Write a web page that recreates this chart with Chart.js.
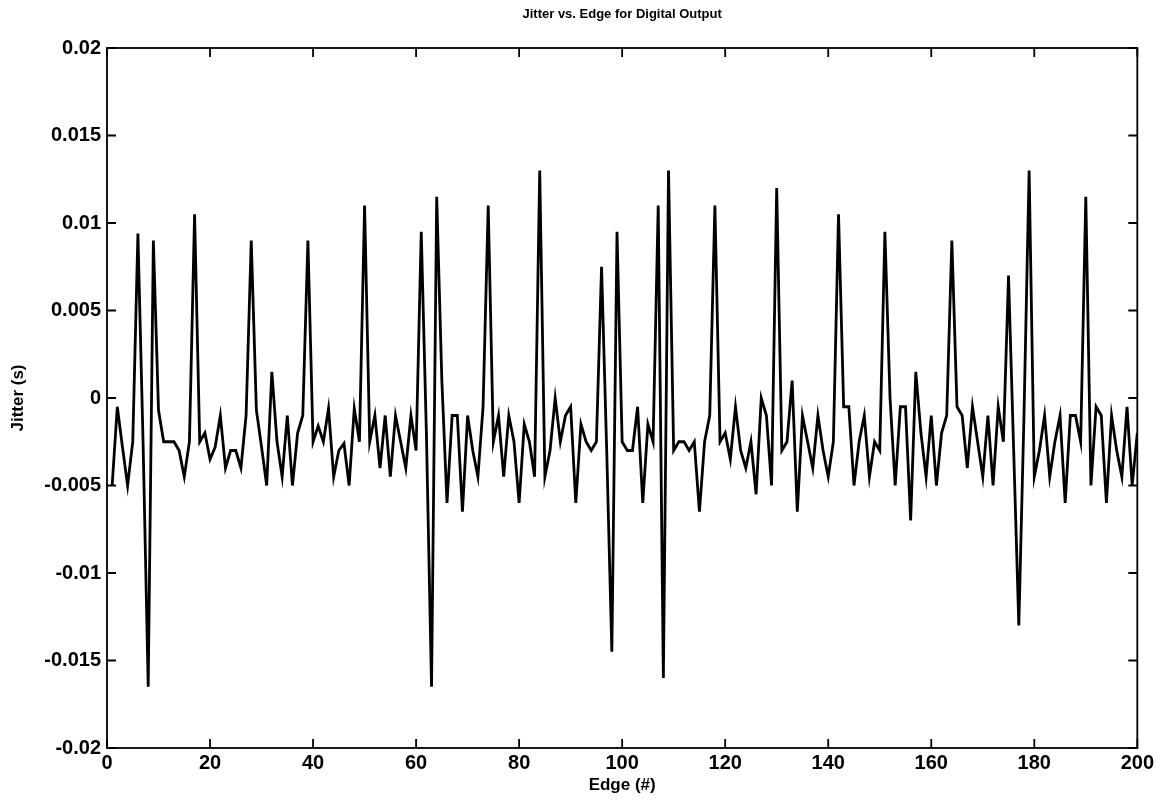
<!DOCTYPE html>
<html lang="en">
<head>
  <meta charset="UTF-8"/>
  <title>Jitter vs. Edge for Digital Output</title>
  <script src="https://cdn.jsdelivr.net/npm/chart.js"></script>
  <style>
    html, body { margin: 0; padding: 0; background: #fff; }
    .chart-box { width: 1157px; height: 800px; position: relative; }
  </style>
</head>
<body>
<div class="chart-box"><canvas id="jitterChart"></canvas></div>

<script>
  // edge index, 1..200
  const edges = Array.from({ length: 200 }, (_, i) => i + 1);

  // jitter per edge (s)
  const jitter = [
    -0.005, -0.0005, -0.0028, -0.005, -0.0025, 0.0094, -0.0025, -0.0165, 0.009, -0.0007,
    -0.0025, -0.0025, -0.0025, -0.003, -0.0045, -0.0025, 0.0105, -0.0025, -0.002, -0.0035,
    -0.0028, -0.001, -0.004, -0.003, -0.003, -0.004, -0.001, 0.009, -0.0007, -0.0028,
    -0.005, 0.0015, -0.0025, -0.0045, -0.001, -0.005, -0.002, -0.001, 0.009, -0.0025,
    -0.0016, -0.0025, -0.0006, -0.0045, -0.003, -0.0026, -0.005, -0.0006, -0.0025, 0.011,
    -0.0025, -0.001, -0.004, -0.001, -0.0045, -0.001, -0.0025, -0.004, -0.001, -0.003,
    0.0095, -0.002, -0.0165, 0.0115, 0.001, -0.006, -0.001, -0.001, -0.0065, -0.001,
    -0.003, -0.0045, -0.0005, 0.011, -0.0025, -0.001, -0.0045, -0.001, -0.0025, -0.006,
    -0.0015, -0.0025, -0.0045, 0.013, -0.0045, -0.003, 0, -0.0025, -0.001, -0.0005,
    -0.006, -0.0015, -0.0025, -0.003, -0.0025, 0.0075, -0.003, -0.0145, 0.0095, -0.0025,
    -0.003, -0.003, -0.0005, -0.006, -0.0015, -0.0025, 0.011, -0.016, 0.013, -0.003,
    -0.0025, -0.0025, -0.003, -0.0025, -0.0065, -0.0025, -0.001, 0.011, -0.0025, -0.002,
    -0.0035, -0.0005, -0.003, -0.004, -0.0025, -0.0055, 0, -0.001, -0.005, 0.012,
    -0.003, -0.0025, 0.001, -0.0065, -0.001, -0.0025, -0.004, -0.001, -0.003, -0.0045,
    -0.0025, 0.0105, -0.0005, -0.0005, -0.005, -0.0025, -0.001, -0.0045, -0.0025, -0.003,
    0.0095, 0, -0.005, -0.0005, -0.0005, -0.007, 0.0015, -0.002, -0.0045, -0.001,
    -0.005, -0.002, -0.001, 0.009, -0.0005, -0.001, -0.004, -0.0005, -0.0025, -0.0045,
    -0.001, -0.005, -0.0005, -0.0025, 0.007, -0.003, -0.013, -0.001, 0.013, -0.0045,
    -0.003, -0.001, -0.0045, -0.0025, -0.001, -0.006, -0.001, -0.001, -0.0025, 0.0115,
    -0.005, -0.0005, -0.001, -0.006, -0.001, -0.003, -0.0045, -0.0005, -0.005, -0.002
  ];

  const xTicks = [0, 20, 40, 60, 80, 100, 120, 140, 160, 180, 200];
  const yTicks = [-0.02, -0.015, -0.01, -0.005, 0, 0.005, 0.01, 0.015, 0.02];
  const yTickLabels = ['-0.02', '-0.015', '-0.01', '-0.005', '0', '0.005', '0.01', '0.015', '0.02'];

  const chartTitle = 'Jitter vs. Edge for Digital Output';
  const FONT = '"Liberation Sans", Arial, Helvetica, sans-serif';

  // matlab style frame: full box, inward ticks on all four sides, title centred over the axes
  const boxPlugin = {
    id: 'matlabBox',
    afterDraw(chart) {
      const { ctx, chartArea: a, scales: { x, y } } = chart;
      const len = 9;
      ctx.save();
      ctx.strokeStyle = '#000';
      ctx.lineWidth = 1.8;
      ctx.strokeRect(a.left, a.top, a.right - a.left, a.bottom - a.top);
      ctx.beginPath();
      xTicks.forEach(v => {
        const px = x.getPixelForValue(v);
        ctx.moveTo(px, a.bottom); ctx.lineTo(px, a.bottom - len);
        ctx.moveTo(px, a.top);    ctx.lineTo(px, a.top + len);
      });
      yTicks.forEach(v => {
        const py = y.getPixelForValue(v);
        ctx.moveTo(a.left, py);  ctx.lineTo(a.left + len, py);
        ctx.moveTo(a.right, py); ctx.lineTo(a.right - len, py);
      });
      ctx.stroke();

      ctx.fillStyle = '#000';
      ctx.font = 'bold 13px ' + FONT;
      ctx.textAlign = 'center';
      ctx.textBaseline = 'middle';
      ctx.fillText(chartTitle, (a.left + a.right) / 2, 14);
      ctx.restore();
    }
  };

  new Chart(document.getElementById('jitterChart'), {
    type: 'line',
    data: {
      datasets: [{
        label: 'Jitter',
        data: edges.map((e, i) => ({ x: e, y: jitter[i] })),
        borderColor: '#000',
        borderWidth: 2.8,
        pointRadius: 0,
        tension: 0,
        fill: false
      }]
    },
    options: {
      responsive: true,
      maintainAspectRatio: false,
      animation: false,
      layout: { padding: { top: 48, left: 0, right: 18, bottom: 0 } },
      plugins: {
        legend: { display: false },
        tooltip: { enabled: false },
        title: { display: false }
      },
      scales: {
        x: {
          type: 'linear',
          min: 0,
          max: 200,
          afterBuildTicks: s => { s.ticks = xTicks.map(v => ({ value: v })); },
          afterFit: s => { s.height = 52; },
          grid: { display: false, drawTicks: false },
          border: { display: false },
          ticks: {
            color: '#000',
            padding: 3,
            maxRotation: 0,
            font: { family: FONT, size: 20, weight: 'bold' }
          },
          title: {
            display: true,
            text: 'Edge (#)',
            color: '#000',
            font: { family: FONT, size: 17, weight: 'bold' },
            padding: { top: 0, bottom: 4 }
          }
        },
        y: {
          min: -0.02,
          max: 0.02,
          afterBuildTicks: s => { s.ticks = yTicks.map(v => ({ value: v })); },
          afterFit: s => { s.width = 107; },
          grid: { display: false, drawTicks: false },
          border: { display: false },
          ticks: {
            color: '#000',
            padding: 6,
            font: { family: FONT, size: 20, weight: 'bold' },
            callback: v => yTickLabels[yTicks.indexOf(v)] ?? ''
          },
          title: {
            display: true,
            text: 'Jitter (s)',
            color: '#000',
            font: { family: FONT, size: 17, weight: 'bold' },
            padding: { top: 8, bottom: 0 }
          }
        }
      }
    },
    plugins: [boxPlugin]
  });
</script>
</body>
</html>
